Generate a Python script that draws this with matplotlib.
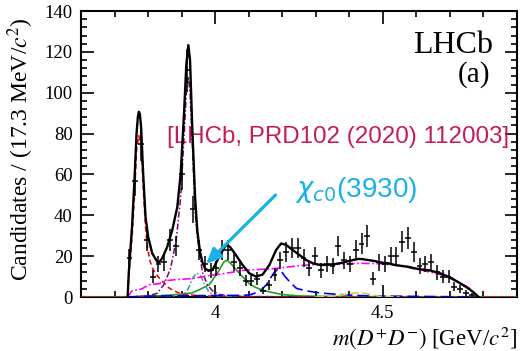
import numpy as np
import matplotlib
matplotlib.use("Agg")
import matplotlib.pyplot as plt
from matplotlib.ticker import MultipleLocator, FixedLocator

# ---------------- data ----------------
bin_width = 0.0173          # GeV
first_center = 3.7445       # GeV
counts = [19, 57, 75, 28, 10, 16, 17, 28, 25, 60, 111, 43, 23, 16, 13, 14, 23, 23, 17, 14,
          8, 8, 9, 3, 6, 11, 18, 22, 24, 24, 19, 14, 20, 13, 16, 15, 25, 18, 16, 23,
          26, 30, 9, 17, 16, 20, 20, 27, 29, 22, 15, 16, 17, 12, 10, 10, 5, 4, 2, 1]

# total fit (black)
tot_m = [3.739, 3.7425, 3.7524, 3.7596, 3.7656, 3.7695, 3.7725, 3.7755, 3.7793, 3.7853, 3.7925,
         3.8003, 3.8123, 3.8272, 3.8323, 3.8422, 3.8572, 3.8722, 3.8871, 3.8973, 3.9072,
         3.9141, 3.9201, 3.9251, 3.9320, 3.9401, 3.9470, 3.9550, 3.9620, 3.9700, 3.9800,
         3.9919, 4.0120, 4.0320, 4.0440, 4.0620, 4.0817, 4.1018, 4.1219, 4.1416, 4.1617,
         4.1817, 4.1967, 4.2117, 4.2314, 4.2515, 4.2716, 4.2913, 4.3114, 4.3314, 4.3512,
         4.3713, 4.3913, 4.4111, 4.4260, 4.4362, 4.4560, 4.4760, 4.4961, 4.5159, 4.5359,
         4.5560, 4.5758, 4.5958, 4.6159, 4.6407, 4.6707, 4.7006, 4.7305, 4.7506, 4.7704, 4.7853]
tot_v = [0, 12, 35, 58, 80, 88, 90.7, 89.5, 83, 60.5, 39,
         29.5, 21.4, 17.3, 16.8, 19, 24.6, 32.8, 44, 60.5, 90,
         114, 123.3, 116, 81.7, 49, 32, 22, 17, 14, 12.8,
         13.2, 19.7, 25.5, 24.6, 20.5, 15.7, 11.6, 10, 11, 15.7,
         23, 26.2, 25.5, 23, 20.5, 18.1, 16.5, 15.7, 15.7, 16,
         16.5, 17.3, 18.1, 18.6, 18.6, 18.1, 17.6, 16.8, 16.5, 15.7,
         15.2, 14.8, 14, 13.5, 13, 11.6, 9.6, 6.7, 4.7, 2.3, 0]

# components
red_m = [3.60, 3.739, 3.7425, 3.7524, 3.7596, 3.7656, 3.7725, 3.7793, 3.7853, 3.7925, 3.7985,
         3.805, 3.812, 3.820, 3.832, 3.847, 3.862, 3.877, 3.900, 3.940, 3.990, 4.060, 4.200, 4.90]
red_v = [0, 0, 11, 30, 50, 72, 79, 74, 55, 34, 24,
         18, 14.5, 12, 9.5, 7, 4.5, 3, 1.5, 0.8, 0.4, 0.2, 0.1, 0]

pur_m = [3.739, 3.80, 3.827, 3.847, 3.867, 3.884, 3.8973, 3.9072, 3.9141, 3.9201, 3.9251,
         3.932, 3.937, 3.9401, 3.947, 3.962, 3.977, 3.992, 4.012, 4.05, 4.10, 4.30]
pur_v = [0, 0.5, 1.8, 6, 14, 28, 49, 78, 100, 108, 100,
         75, 54, 42, 29, 12, 6, 3, 1.2, 0.5, 0.2, 0]

teal_m = [3.85, 3.90, 3.915, 3.9222, 3.932, 3.9446, 3.9572, 3.9671, 3.982, 4.00, 4.03, 4.06]
teal_v = [0, 0.8, 2.5, 5, 9, 11.8, 10.3, 6.7, 2.3, 0.8, 0.2, 0]

grn_m = [3.60, 3.739, 3.80, 3.85, 3.90, 3.931, 3.952, 3.982, 3.991, 4.003, 4.012, 4.018, 4.027,
         4.036, 4.046, 4.054, 4.075, 4.087, 4.102, 4.117, 4.138, 4.162, 4.201, 4.252,
         4.35, 4.785, 4.90]
grn_v = [0, 0, 0.4, 0.8, 1.3, 2, 3.5, 6, 8, 11, 13, 15, 17.3,
         18, 16.5, 15, 11, 9, 6.5, 5, 3.5, 2.5, 1.2, 0.5,
         0.2, 0, 0]

mag_m = [3.739, 3.752, 3.782, 3.802, 3.832, 3.853, 3.883, 3.931, 3.982, 4.032, 4.081, 4.183,
         4.261, 4.311, 4.371, 4.431, 4.491, 4.551, 4.611, 4.671, 4.731, 4.761, 4.785]
mag_v = [0, 3, 4, 6, 6.5, 8, 8.5, 9, 10.5, 11.6, 13, 14,
         15.5, 16, 16, 16.5, 16.3, 15.3, 13.3, 11, 7, 4, 0]

blu_m = [3.739, 3.80, 3.90, 4.00, 4.07, 4.102, 4.132, 4.153, 4.166, 4.176, 4.186, 4.196,
         4.206, 4.222, 4.2425, 4.272, 4.311, 4.371, 4.461, 4.785]
blu_v = [0, 0.4, 0.6, 0.7, 0.8, 1, 2.6, 6, 9.5, 12, 13.5, 13,
         10.5, 7.5, 4.2, 3, 2, 1.2, 0.5, 0]

yel_m = [4.30, 4.35, 4.372, 4.401, 4.426, 4.451, 4.491, 4.55]
yel_v = [0, 0.4, 0.8, 1.6, 2.1, 1.6, 0.3, 0]

x_ticks = [4.0, 4.5]
x_ticklabels = ["4", "4.5"]
y_ticks = [0, 20, 40, 60, 80, 100, 120, 140]

# ---------------- figure ----------------
plt.rcParams['font.family'] = ['Liberation Serif', 'DejaVu Serif']
plt.rcParams['mathtext.fontset'] = 'stix'

fig = plt.figure(figsize=(5.25, 3.51), dpi=100)
ax = fig.add_axes([81/525, 1-297/351, 436/525, 286/351])

centers = first_center + bin_width*np.arange(len(counts))
cnt = np.array(counts, dtype=float)
ax.errorbar(centers, cnt, yerr=np.sqrt(cnt), xerr=bin_width/2, fmt='none',
            ecolor='black', elinewidth=1.1, capsize=0, zorder=6)

ax.plot(grn_m, grn_v, color='#1fa01f', lw=1.2, ls='-', zorder=3)
ax.plot(red_m, red_v, color='#ff0000', lw=1.2, ls=(0, (3, 2)), zorder=4)
ax.plot(pur_m, pur_v, color='#800080', lw=1.1, ls=(0, (4, 1.5, 1, 1.5)), zorder=4)
ax.plot(teal_m, teal_v, color='#2f9f9f', lw=1.1, ls=(0, (4, 1.5, 1, 1.5)), zorder=4)
ax.plot(mag_m, mag_v, color='#ff00ff', lw=1.2, ls=(0, (5, 1.5, 1, 1.5)), zorder=4)
ax.plot(blu_m, blu_v, color='#0000ee', lw=1.2, ls=(0, (7, 3)), zorder=4)
ax.plot(yel_m, yel_v, color='#cccc44', lw=1.2, ls=(0, (5, 2)), zorder=4)
ax.plot(tot_m, tot_v, color='black', lw=1.7, zorder=5)

ax.set_xlim(3.6, 4.9)
ax.set_ylim(0, 140)

ax.xaxis.set_major_locator(FixedLocator(x_ticks))
ax.set_xticklabels(x_ticklabels)
ax.xaxis.set_minor_locator(MultipleLocator(0.1))
ax.yaxis.set_major_locator(FixedLocator(y_ticks))
ax.yaxis.set_minor_locator(MultipleLocator(4))
ax.tick_params(which='both', direction='in', top=True, right=True, width=1.2)
ax.tick_params(which='major', length=9, labelsize=13.5)
ax.tick_params(axis='x', which='major', pad=6)
ax.tick_params(axis='y', which='major', pad=6)
ax.tick_params(which='minor', length=4.5)
for s in ax.spines.values():
    s.set_linewidth(1.5)

fig.text(21/525, 1-149/351, r"Candidates / (17.3 MeV/$c^2$)", rotation=90,
         ha='center', va='center', fontsize=17)
fig.text(517/525, 1-345/351, r"$m(D^{+}D^{-})$ [GeV/$c^2$]", ha='right', va='baseline',
         fontsize=16.5)

ax.text(0.945, 0.853, "LHCb", transform=ax.transAxes, ha='right', va='baseline', fontsize=23)
ax.text(0.938, 0.752, "(a)", transform=ax.transAxes, ha='right', va='baseline', fontsize=21)

ax.text(3.8563, 75.4, "[LHCb, PRD102 (2020) 112003]", color='#c51b5a', ha='left',
        va='baseline', fontsize=17.4, family=['Liberation Sans', 'DejaVu Sans'])

ax.annotate("", xy=(3.973, 16.2), xytext=(4.180, 49.9),
            arrowprops=dict(arrowstyle='-|>,head_length=0.9,head_width=0.4',
                            color='#1ab0e8', lw=2.3, shrinkA=0, shrinkB=0), zorder=7)
ax.text(4.2395, 48.9, r"$\chi_{c0}$(3930)", color='#1ab0e8', ha='left', va='baseline',
        fontsize=20, family=['Liberation Sans', 'DejaVu Sans'], math_fontfamily='dejavusans')

fig.savefig("out.png", dpi=100)
